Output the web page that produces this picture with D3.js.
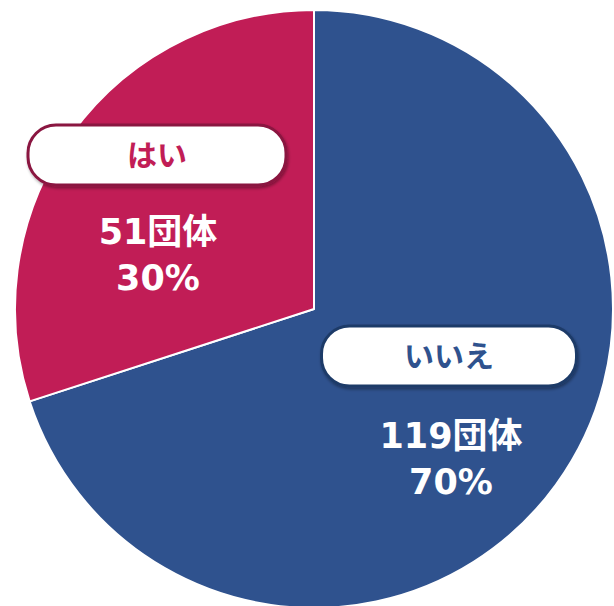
<!DOCTYPE html>
<html><head><meta charset="utf-8">
<script src="https://cdn.jsdelivr.net/npm/d3@7"></script>
<style>html,body{margin:0;padding:0;background:#fff;}svg{display:block;}</style>
</head><body>
<script>
const categories = ["いいえ", "はい"];
const counts = [119, 51];
const percents = ["70%", "30%"];
const unit = "団体";

const W = 614, H = 606;
const cx = 314, cy = 309, R = 299;
const colors = ["#2F528E", "#C11D56"];
const borderColors = ["#1F3A68", "#8A1440"];
// label layout (pill centre and value text centre, relative to the chart centre)
const layout = [
  {px: 135, py: 47, pw: 255, ph: 60, vx: 137, vy: 149},
  {px: -157, py: -154, pw: 258, ph: 60, vx: -156, vy: -55}
];
const lineGap = 23;

const svg = d3.select("body").append("svg").attr("width", W).attr("height", H);
const defs = svg.append("defs");
const f = defs.append("filter").attr("id", "sh").attr("x", "-10%").attr("y", "-20%").attr("width", "120%").attr("height", "150%");
f.append("feDropShadow").attr("dx", 1).attr("dy", 2).attr("stdDeviation", 1.5).attr("flood-color", "#000").attr("flood-opacity", 0.35);

const g = svg.append("g").attr("transform", `translate(${cx},${cy})`);
const pie = d3.pie().sort(null).value(d => d)(counts);
const arc = d3.arc().innerRadius(0).outerRadius(R);

g.selectAll("path.slice").data(pie).join("path")
  .attr("class", "slice")
  .attr("d", arc)
  .attr("fill", (d, i) => colors[i])
  .attr("stroke", "#fff").attr("stroke-width", 2).attr("stroke-linejoin", "round");

const font = "'Noto Sans CJK JP', 'Noto Sans', sans-serif";
const numFont = "'DejaVu Sans', 'Noto Sans CJK JP', sans-serif";
const lab = g.selectAll("g.lab").data(pie).join("g").attr("class", "lab");
lab.append("rect")
  .attr("x", (d, i) => layout[i].px - layout[i].pw / 2)
  .attr("y", (d, i) => layout[i].py - layout[i].ph / 2)
  .attr("width", (d, i) => layout[i].pw)
  .attr("height", (d, i) => layout[i].ph)
  .attr("rx", 28).attr("ry", 28)
  .attr("fill", "#fff")
  .attr("stroke", (d, i) => borderColors[i]).attr("stroke-width", 3)
  .attr("filter", "url(#sh)");
lab.append("text")
  .attr("x", (d, i) => layout[i].px)
  .attr("y", (d, i) => layout[i].py)
  .attr("dy", "0.36em")
  .attr("text-anchor", "middle")
  .attr("font-family", font).attr("font-weight", 700).attr("font-size", 30)
  .attr("fill", (d, i) => colors[i])
  .text((d, i) => categories[i]);
lab.append("text")
  .attr("x", (d, i) => layout[i].vx)
  .attr("y", (d, i) => layout[i].vy - lineGap)
  .attr("dy", "0.36em")
  .attr("text-anchor", "middle")
  .attr("font-family", numFont).attr("font-weight", 700).attr("font-size", 35)
  .attr("fill", "#fff")
  .text((d, i) => counts[i] + unit);
lab.append("text")
  .attr("x", (d, i) => layout[i].vx)
  .attr("y", (d, i) => layout[i].vy + lineGap)
  .attr("dy", "0.36em")
  .attr("text-anchor", "middle")
  .attr("font-family", numFont).attr("font-weight", 700).attr("font-size", 35)
  .attr("fill", "#fff")
  .text((d, i) => percents[i]);
</script>
</body></html>
